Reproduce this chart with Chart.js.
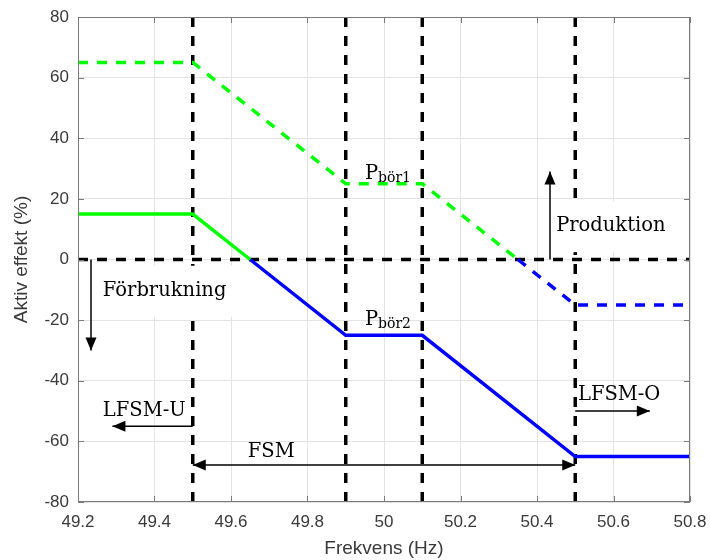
<!DOCTYPE html>
<html>
<head>
<meta charset="utf-8">
<script src="https://cdn.jsdelivr.net/npm/chart.js@4.4.1/dist/chart.umd.min.js"></script>
<style>
    html, body { margin: 0; background: #fff; }
</style>
</head>
<body>
<canvas id="grafico" width="710" height="560"></canvas>
<script>
// kurvor (frekvens i Hz, effekt i %)
const gronHelX = [49.2, 49.5, 49.65];
const gronHelY = [15, 15, 0];
const blaHelX = [49.65, 49.9, 50.1, 50.5, 50.8];
const blaHelY = [0, -25, -25, -65, -65];
const gronStrX = [49.2, 49.5, 49.9, 50.1, 50.35];
const gronStrY = [65, 65, 25, 25, 0];
const blaStrX = [50.35, 50.5, 50.8];
const blaStrY = [0, -15, -15];

// gränsfrekvenser (svarta streckade linjer)
const gransFrekvenser = [49.5, 49.9, 50.1, 50.5];

// axlar
const xTicks = [49.2, 49.4, 49.6, 49.8, 50, 50.2, 50.4, 50.6, 50.8];
const yTicks = [-80, -60, -40, -20, 0, 20, 40, 60, 80];

// texter och pilar i datakoordinater
const texter = [
    { txt: "Produktion", x: 50.45, y: 11, ruta: true },
    { txt: "Förbrukning", x: 49.265, y: -10.3, ruta: true },
    { txt: "LFSM-U", x: 49.265, y: -50, ruta: false },
    { txt: "LFSM-O", x: 50.507, y: -44.7, ruta: false },
    { txt: "FSM", x: 49.644, y: -63.5, ruta: false }
];
const indexTexter = [
    { txt: "P", sub: "bör1", x: 49.95, y: 28.3 },
    { txt: "P", sub: "bör2", x: 49.95, y: -19.8 }
];
const pilar = [
    { x1: 50.434, y1: 0, x2: 50.434, y2: 29, dubbel: false },
    { x1: 49.234, y1: 0, x2: 49.234, y2: -30, dubbel: false },
    { x1: 49.5, y1: -55, x2: 49.29, y2: -55, dubbel: false },
    { x1: 50.5, y1: -50, x2: 50.695, y2: -50, dubbel: false },
    { x1: 49.5, y1: -67.8, x2: 50.5, y2: -67.8, dubbel: true }
];

function punkter(xs, ys) {
    return xs.map((x, i) => ({ x: x, y: ys[i] }));
}

const datasets = [
    { data: punkter(gronStrX, gronStrY), borderColor: "#00ff00", borderDash: [10, 9] },
    { data: punkter(blaStrX, blaStrY), borderColor: "#0000ff", borderDash: [10, 9] },
    { data: punkter(gronHelX, gronHelY), borderColor: "#00ff00" },
    { data: punkter(blaHelX, blaHelY), borderColor: "#0000ff" },
    { data: punkter([49.2, 50.8], [0, 0]), borderColor: "#000", borderDash: [10, 9] }
];
gransFrekvenser.forEach(f => {
    datasets.push({ data: punkter([f, f], [-80, 80]), borderColor: "#000", borderDash: [10, 9] });
});
datasets.forEach(d => {
    d.showLine = true;
    d.pointRadius = 0;
    d.borderWidth = 3.5;
    d.fill = false;
});

function rita(ctx, x1, y1, x2, y2, dubbel) {
    const huvud = (ax, ay, bx, by) => {
        const v = Math.atan2(by - ay, bx - ax);
        ctx.beginPath();
        ctx.moveTo(bx, by);
        ctx.lineTo(bx - 13 * Math.cos(v) + 5.5 * Math.sin(v), by - 13 * Math.sin(v) - 5.5 * Math.cos(v));
        ctx.lineTo(bx - 13 * Math.cos(v) - 5.5 * Math.sin(v), by - 13 * Math.sin(v) + 5.5 * Math.cos(v));
        ctx.closePath();
        ctx.fill();
    };
    ctx.beginPath();
    ctx.moveTo(x1, y1);
    ctx.lineTo(x2, y2);
    ctx.stroke();
    huvud(x1, y1, x2, y2);
    if (dubbel) huvud(x2, y2, x1, y1);
}

const ramPlugin = {
    id: "ram",
    afterDatasetsDraw(chart) {
        const ctx = chart.ctx;
        const a = chart.chartArea;
        const xs = chart.scales.x, ys = chart.scales.y;
        ctx.save();

        // vita rutor bakom vissa texter
        ctx.font = "19.5px 'DejaVu Serif'";
        ctx.fillStyle = "#fff";
        texter.filter(t => t.ruta).forEach(t => {
            const w = ctx.measureText(t.txt).width;
            const px = xs.getPixelForValue(t.x);
            const py = ys.getPixelForValue(t.y);
            ctx.fillRect(px - 8, py - 25, Math.min(w + 16, a.right - px + 7), 51);
        });

        ctx.strokeStyle = "#7a7a7a";
        ctx.lineWidth = 1;
        ctx.strokeRect(a.left + 0.5, a.top + 0.5, a.right - a.left - 1, a.bottom - a.top - 1);
        xTicks.forEach(t => {
            const px = Math.round(xs.getPixelForValue(t)) + 0.5;
            ctx.beginPath();
            ctx.moveTo(px, a.bottom); ctx.lineTo(px, a.bottom - 6);
            ctx.moveTo(px, a.top); ctx.lineTo(px, a.top + 6);
            ctx.stroke();
        });
        yTicks.forEach(t => {
            const py = Math.round(ys.getPixelForValue(t)) + 0.5;
            ctx.beginPath();
            ctx.moveTo(a.left, py); ctx.lineTo(a.left + 6, py);
            ctx.moveTo(a.right, py); ctx.lineTo(a.right - 6, py);
            ctx.stroke();
        });

        ctx.fillStyle = "#000";
        ctx.strokeStyle = "#000";
        ctx.lineWidth = 1.5;
        pilar.forEach(p => {
            rita(ctx, xs.getPixelForValue(p.x1), ys.getPixelForValue(p.y1),
                xs.getPixelForValue(p.x2), ys.getPixelForValue(p.y2), p.dubbel);
        });

        ctx.textBaseline = "middle";
        ctx.textAlign = "left";
        ctx.font = "19.5px 'DejaVu Serif'";
        texter.forEach(t => {
            ctx.fillText(t.txt, xs.getPixelForValue(t.x), ys.getPixelForValue(t.y));
        });
        indexTexter.forEach(t => {
            const px = xs.getPixelForValue(t.x);
            const py = ys.getPixelForValue(t.y);
            ctx.font = "19.5px 'DejaVu Serif'";
            ctx.fillText(t.txt, px, py);
            const w = ctx.measureText(t.txt).width;
            ctx.font = "14px 'DejaVu Serif'";
            ctx.fillText(t.sub, px + w, py + 5);
        });
        ctx.restore();
    }
};

new Chart(document.getElementById("grafico"), {
    type: "scatter",
    data: { datasets: datasets },
    options: {
        responsive: false,
        animation: false,
        layout: { padding: { top: 17, right: 20, left: 10, bottom: 0 } },
        plugins: { legend: { display: false }, tooltip: { enabled: false } },
        scales: {
            x: {
                type: "linear",
                min: 49.2,
                max: 50.8,
                afterBuildTicks: s => { s.ticks = xTicks.map(v => ({ value: v })); },
                afterFit: s => { s.height = 58; s.paddingLeft = 0; s.paddingRight = 0; },
                grid: { color: "#e3e3e3", drawTicks: false },
                border: { display: false },
                ticks: {
                    color: "#3a3a3a",
                    padding: 10,
                    font: { family: "'Liberation Sans'", size: 17 },
                    callback: v => String(Math.round(v * 10) / 10)
                },
                title: {
                    display: true,
                    text: "Frekvens (Hz)",
                    color: "#3a3a3a",
                    padding: { top: 2, bottom: 0 },
                    font: { family: "'Liberation Sans'", size: 19 }
                }
            },
            y: {
                min: -80,
                max: 80,
                afterBuildTicks: s => { s.ticks = yTicks.map(v => ({ value: v })); },
                afterFit: s => { s.width = 68; s.paddingTop = 0; s.paddingBottom = 0; },
                grid: { color: "#e3e3e3", drawTicks: false },
                border: { display: false },
                ticks: {
                    color: "#3a3a3a",
                    padding: 9,
                    font: { family: "'Liberation Sans'", size: 17 }
                },
                title: {
                    display: true,
                    text: "Aktiv effekt (%)",
                    color: "#3a3a3a",
                    padding: { top: 0, bottom: 2 },
                    font: { family: "'Liberation Sans'", size: 19 }
                }
            }
        }
    },
    plugins: [ramPlugin]
});
</script>
</body>
</html>
